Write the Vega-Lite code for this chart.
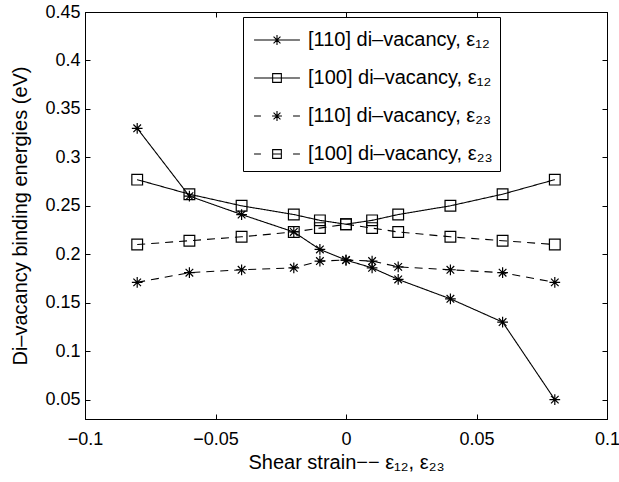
{
  "$schema": "https://vega.github.io/schema/vega-lite/v6.json",
  "width": 522,
  "height": 407,
  "autosize": "none",
  "padding": {"left": 85, "top": 12, "right": 12, "bottom": 63},
  "config": {
    "font": "Liberation Sans",
    "view": {"stroke": "black", "strokeWidth": 1},
    "axis": {
      "grid": false,
      "domainColor": "black",
      "domainWidth": 1,
      "tickColor": "black",
      "tickWidth": 1,
      "tickSize": -5,
      "labelColor": "black",
      "labelFont": "Liberation Sans",
      "labelFontSize": 18,
      "titleColor": "black",
      "titleFont": "Liberation Sans",
      "titleFontSize": 20,
      "titleFontWeight": "normal"
    }
  },
  "data": {
    "values": [
      {"x": -0.08, "y": 0.330, "s": "a"}, {"x": -0.06, "y": 0.260, "s": "a"}, {"x": -0.04, "y": 0.241, "s": "a"}, {"x": -0.02, "y": 0.223, "s": "a"}, {"x": -0.01, "y": 0.205, "s": "a"}, {"x": 0, "y": 0.194, "s": "a"}, {"x": 0.01, "y": 0.186, "s": "a"}, {"x": 0.02, "y": 0.174, "s": "a"}, {"x": 0.04, "y": 0.154, "s": "a"}, {"x": 0.06, "y": 0.130, "s": "a"}, {"x": 0.08, "y": 0.050, "s": "a"},
      {"x": -0.08, "y": 0.277, "s": "b"}, {"x": -0.06, "y": 0.262, "s": "b"}, {"x": -0.04, "y": 0.250, "s": "b"}, {"x": -0.02, "y": 0.241, "s": "b"}, {"x": -0.01, "y": 0.235, "s": "b"}, {"x": 0, "y": 0.231, "s": "b"}, {"x": 0.01, "y": 0.235, "s": "b"}, {"x": 0.02, "y": 0.241, "s": "b"}, {"x": 0.04, "y": 0.250, "s": "b"}, {"x": 0.06, "y": 0.262, "s": "b"}, {"x": 0.08, "y": 0.277, "s": "b"},
      {"x": -0.08, "y": 0.171, "s": "c"}, {"x": -0.06, "y": 0.181, "s": "c"}, {"x": -0.04, "y": 0.184, "s": "c"}, {"x": -0.02, "y": 0.186, "s": "c"}, {"x": -0.01, "y": 0.193, "s": "c"}, {"x": 0, "y": 0.194, "s": "c"}, {"x": 0.01, "y": 0.193, "s": "c"}, {"x": 0.02, "y": 0.187, "s": "c"}, {"x": 0.04, "y": 0.184, "s": "c"}, {"x": 0.06, "y": 0.181, "s": "c"}, {"x": 0.08, "y": 0.171, "s": "c"},
      {"x": -0.08, "y": 0.210, "s": "d"}, {"x": -0.06, "y": 0.214, "s": "d"}, {"x": -0.04, "y": 0.218, "s": "d"}, {"x": -0.02, "y": 0.223, "s": "d"}, {"x": -0.01, "y": 0.227, "s": "d"}, {"x": 0, "y": 0.231, "s": "d"}, {"x": 0.01, "y": 0.227, "s": "d"}, {"x": 0.02, "y": 0.223, "s": "d"}, {"x": 0.04, "y": 0.218, "s": "d"}, {"x": 0.06, "y": 0.214, "s": "d"}, {"x": 0.08, "y": 0.210, "s": "d"}
    ]
  },
  "layer": [
    {
      "mark": {"type": "line", "color": "black", "strokeWidth": 1.1},
      "encoding": {
        "x": {"field": "x", "type": "quantitative", "scale": {"domain": [-0.1, 0.1], "nice": false, "zero": false},
          "axis": {"values": [-0.1, -0.05, 0, 0.05, 0.1], "format": "~g", "labelPadding": 16, "title": "Shear strain−− ε₁₂, ε₂₃", "titlePadding": 4, "labelFlush": false}},
        "y": {"field": "y", "type": "quantitative", "scale": {"domain": [0.03, 0.45], "nice": false, "zero": false},
          "axis": {"values": [0.05, 0.1, 0.15, 0.2, 0.25, 0.3, 0.35, 0.4, 0.45], "format": "~g", "labelPadding": 10, "title": "Di–vacancy binding energies (eV)", "titlePadding": 14, "labelFlush": false}},
        "detail": {"field": "s"},
        "strokeDash": {"field": "s", "type": "nominal", "scale": {"range": [[1, 0], [1, 0], [8, 6], [8, 6]]}, "legend": null}
      }
    },
    {
      "mark": {"type": "point", "filled": false, "color": "black", "strokeWidth": 1.2, "size": 115, "opacity": 1},
      "encoding": {
        "x": {"field": "x", "type": "quantitative", "axis": {"orient": "top", "labels": false, "title": null, "values": [-0.1, -0.05, 0, 0.05, 0.1]}},
        "y": {"field": "y", "type": "quantitative", "axis": {"orient": "right", "labels": false, "title": null, "values": [0.05, 0.1, 0.15, 0.2, 0.25, 0.3, 0.35, 0.4, 0.45]}},
        "shape": {
          "field": "s", "type": "nominal", "legend": null,
          "scale": {"range": ["M-1,0H1M0,-1V1M-0.71,-0.71L0.71,0.71M-0.71,0.71L0.71,-0.71", "square", "M-1,0H1M0,-1V1M-0.71,-0.71L0.71,0.71M-0.71,0.71L0.71,-0.71", "square"]}
        }
      }
    },
    {
      "mark": {"type": "point", "filled": false, "color": "black", "strokeWidth": 1.1, "opacity": 0},
      "encoding": {
        "x": {"field": "x", "type": "quantitative", "axis": null},
        "y": {"field": "y", "type": "quantitative", "axis": null},
        "shape": {
          "field": "s", "type": "nominal",
          "scale": {"domain": ["a", "b", "c", "d"], "range": [
            "M-1.53,0H1.53M-0.33,0H0.33M0,-0.33V0.33M-0.23,-0.23L0.23,0.23M-0.23,0.23L0.23,-0.23",
            "M-1.53,0H1.53M-0.29,-0.29H0.29V0.29H-0.29Z",
            "M-1.53,0H-1.07M1.07,0H1.53M-0.33,0H0.33M0,-0.33V0.33M-0.23,-0.23L0.23,0.23M-0.23,0.23L0.23,-0.23",
            "M-1.53,0H-1.07M1.07,0H1.53M-0.29,0H0.29M-0.29,-0.29H0.29V0.29H-0.29Z"
          ]},
          "legend": {
            "title": null,
            "orient": "none",
            "legendX": 158,
            "legendY": 5,
            "padding": 7,
            "strokeColor": "black",
            "fillColor": "white",
            "symbolSize": 900,
            "symbolOffset": 11,
            "labelOffset": 15,
            "rowPadding": 12,
            "labelFont": "Liberation Sans",
            "labelFontSize": 20,
            "labelColor": "black",
            "labelLimit": 400,
            "symbolStrokeColor": "black",
            "symbolFillColor": "transparent",
            "symbolStrokeWidth": 1.1,
            "symbolOpacity": 1,
            "labelExpr": "datum.value == 'a' ? '[110] di–vacancy, ε₁₂   ' : datum.value == 'b' ? '[100] di–vacancy, ε₁₂   ' : datum.value == 'c' ? '[110] di–vacancy, ε₂₃   ' : '[100] di–vacancy, ε₂₃   '"
          }
        }
      }
    }
  ],
  "resolve": {"axis": {"x": "independent", "y": "independent"}, "scale": {"shape": "independent"}, "legend": {"shape": "independent"}}
}
